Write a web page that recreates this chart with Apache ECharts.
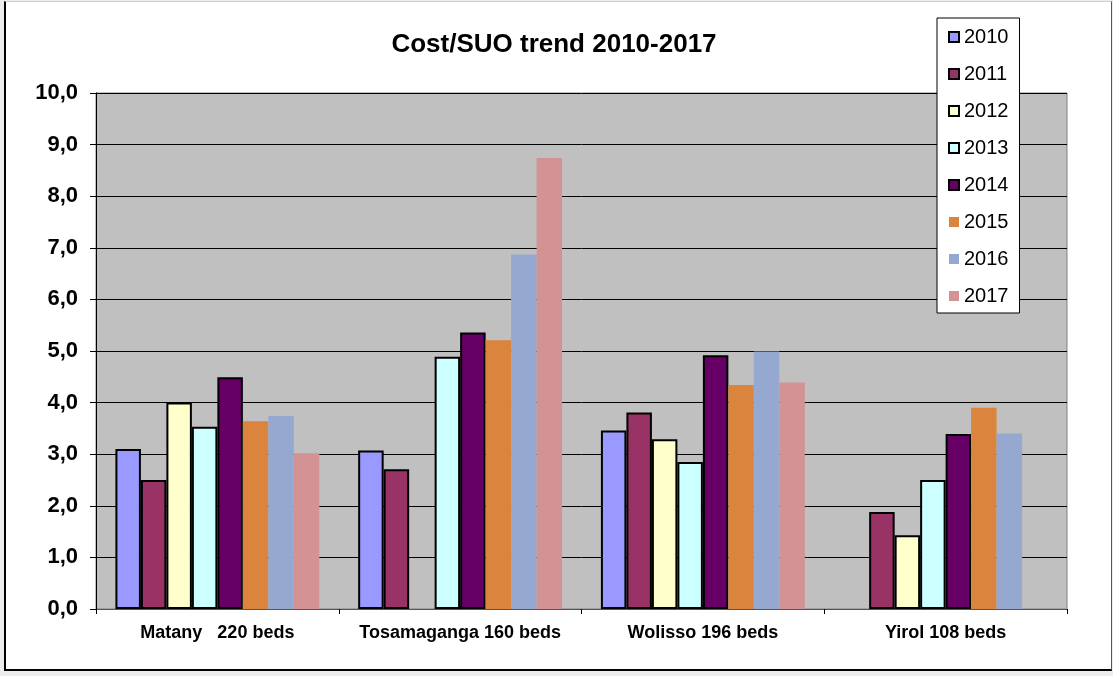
<!DOCTYPE html>
<html>
<head>
<meta charset="utf-8">
<script src="https://cdn.jsdelivr.net/npm/echarts@6/dist/echarts.min.js"></script>
<style>
  html, body { margin: 0; padding: 0; background: #ececec; }
  #wrap { position: absolute; left: 0; top: 0; width: 1113px; height: 676px; background: #ececec; }
  #frame {
    position: absolute; left: 4px; top: 1px; width: 1105px; height: 667px;
    background: #ffffff;
    border-left: 2px solid #000; border-bottom: 2px solid #000;
    border-top: 1px solid #d0d0d0; border-right: 1px solid #555;
  }
  #chart { position: absolute; left: 0; top: 0; width: 1113px; height: 676px; }
</style>
</head>
<body>
<div id="wrap">
  <div id="frame"></div>
  <div id="chart"></div>
</div>
<script>
// Hospitals compared
const categories = ['Matany   220 beds', 'Tosamaganga 160 beds', 'Wolisso 196 beds', 'Yirol 108 beds'];

// Cost per SUO by year (null = no figure for that hospital/year)
const years = ['2010', '2011', '2012', '2013', '2014', '2015', '2016', '2017'];
const y2010 = [3.10, 3.07, 3.46, null];
const y2011 = [2.50, 2.71, 3.81, 1.88];
const y2012 = [4.00, null, 3.29, 1.43];
const y2013 = [3.53, 4.89, 2.85, 2.50];
const y2014 = [4.49, 5.36, 4.92, 3.39];
const y2015 = [3.64, 5.21, 4.34, 3.90];
const y2016 = [3.74, 6.87, 4.99, 3.40];
const y2017 = [3.02, 8.74, 4.39, null];

const yearValues = [y2010, y2011, y2012, y2013, y2014, y2015, y2016, y2017];
const colors = ['#9999ff', '#993366', '#ffffcc', '#ccffff', '#660066', '#db843d', '#95a9d0', '#d39293'];
const outlined = [true, true, true, true, true, false, false, false];

const font = '"Liberation Sans", Arial, sans-serif';

const series = years.map((yr, i) => ({
  name: yr,
  type: 'bar',
  data: yearValues[i],
  barGap: '0%',
  barCategoryGap: '16%',
  itemStyle: {
    color: colors[i],
    borderColor: '#000',
    borderWidth: outlined[i] ? 2 : 0
  },
  emphasis: { disabled: true },
  animation: false
}));

const chart = echarts.init(document.getElementById('chart'), null, { renderer: 'canvas' });
chart.setOption({
  animation: false,
  backgroundColor: 'transparent',
  title: {
    text: 'Cost/SUO trend 2010-2017',
    left: 549,
    textAlign: 'center',
    top: 27,
    textStyle: { fontFamily: font, fontSize: 26, fontWeight: 'bold', color: '#000' }
  },
  legend: {
    orient: 'vertical',
    left: 937,
    top: 18,
    padding: [9, 11, 7, 11],
    itemWidth: 10,
    itemHeight: 10,
    itemGap: 17,
    icon: 'rect',
    backgroundColor: '#fff',
    borderColor: '#000',
    borderWidth: 1,
    selectedMode: false,
    textStyle: { fontFamily: font, fontSize: 20, color: '#000', lineHeight: 20 },
    data: years
  },
  grid: {
    left: 96, right: 46, top: 93, bottom: 67,
    show: true,
    backgroundColor: '#c0c0c0',
    borderColor: '#808080',
    borderWidth: 1,
    containLabel: false
  },
  xAxis: {
    type: 'category',
    data: categories,
    axisLine: { lineStyle: { color: '#555', width: 1 } },
    axisTick: { show: true, length: 5, lineStyle: { color: '#000' } },
    axisLabel: { interval: 0, fontFamily: font, fontSize: 18, fontWeight: 'bold', color: '#000', margin: 15 }
  },
  yAxis: {
    type: 'value',
    min: 0, max: 10, interval: 1,
    axisLine: { show: true, lineStyle: { color: '#000', width: 1 } },
    axisTick: { show: true, length: 6, lineStyle: { color: '#000' } },
    axisLabel: {
      fontFamily: font, fontSize: 22, fontWeight: 'bold', color: '#000', margin: 18,
      formatter: v => v.toFixed(1).replace('.', ',')
    },
    splitLine: { show: true, lineStyle: { color: '#000', width: 1 } }
  },
  series: series
});
</script>
</body>
</html>
